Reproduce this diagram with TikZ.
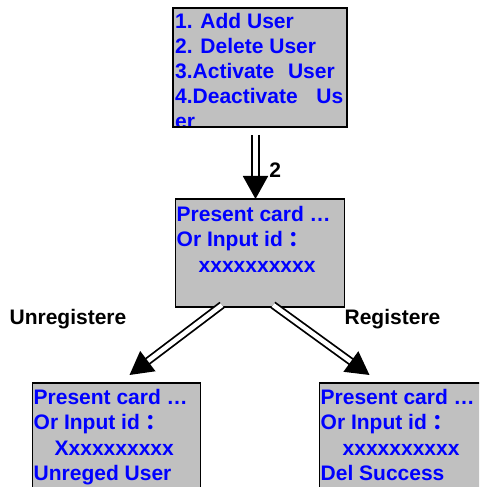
\documentclass[tikz,border=0pt]{standalone}
\usepackage{fontspec}
\setmainfont{Liberation Sans}
\newfontfamily\cjk{Noto Sans CJK SC}
\usepackage{xcolor}
\definecolor{screenGray}{HTML}{C0C0C0}
\definecolor{screenBlue}{HTML}{0000FF}
\usetikzlibrary{positioning,arrows.meta}
\tikzset{%
  screenBox/.style={%
    rectangle,
    draw=black,
    line width=1.6pt,
    fill=screenGray,
    inner sep=0pt,
    outer sep=0pt
  },
  screenText/.style={%
    anchor=north west,
    inner sep=0pt,
    align=left,
    text=screenBlue,
    font=\fontsize{21}{25.5}\selectfont\bfseries
  },
  dblArrow/.style={%
    -{Triangle[length=23pt,width=25pt]},
    line width=1.8pt,
    double,
    double distance=4.5pt
  },
  tagText/.style={%
    anchor=base,
    inner sep=0pt,
    font=\fontsize{21}{25}\selectfont\bfseries
  }
}

\begin{document}
\begin{tikzpicture}[x=1pt,y=1pt]
  \useasboundingbox (0,0) rectangle (479,487);
  \clip (0,0) rectangle (479,487);

  % screens
  \node[screenBox, minimum width=174pt, minimum height=119pt] (menu) at (260,419.5) {};
  \node[screenBox, minimum width=169pt, minimum height=108pt, below=72pt of menu] (card) {};
  \node[screenBox, minimum width=168pt, minimum height=120pt, below left=76pt and -25pt of card] (unreg) {};
  \node[screenBox, minimum width=172pt, minimum height=120pt, below right=76pt and -25pt of card] (reg) {};

  \begin{scope}
    \clip (menu.south west) rectangle (menu.north east);
    \node[screenText, font=\fontsize{21}{24.9}\selectfont\bfseries] (menuText) at ([shift={(2pt,-5.5pt)}]menu.north west)
      {1. Add User\\2. Delete User\\3.Activate\ \ \hspace{2pt}User\\4.Deactivate\ \ \hspace{7pt}Us\\er};
  \end{scope}
  \node[screenText] (cardText) at ([shift={(1pt,-7pt)}]card.north west)
    {Present card \dots\\Or Input id {\cjk：}\\\hspace*{22pt}xxxxxxxxxx};
  \node[screenText] (unregText) at ([shift={(1pt,-6pt)}]unreg.north west)
    {Present card \dots\\Or Input id {\cjk：}\\\hspace*{21pt}Xxxxxxxxxx\\Unreged User};
  \node[screenText] (regText) at ([shift={(1pt,-6pt)}]reg.north west)
    {Present card \dots\\Or Input id {\cjk：}\\\hspace*{22pt}xxxxxxxxxx\\Del Success};
  \draw[line width=1.6pt] (menu.south west) rectangle (menu.north east);

  % transitions
  \draw[dblArrow] ([shift={(-4.5pt,-8pt)}]menu.south) --
    node[tagText, pos=0.67, anchor=base west, xshift=13pt] (stepTag) {2}
    ([xshift=-4.5pt]card.north);
  \draw[dblArrow] ([shift={(-38pt,2pt)}]card.south) -- ([shift={(13pt,8pt)}]unreg.north);
  \draw[dblArrow] ([shift={(13pt,2pt)}]card.south) -- ([shift={(-36pt,8pt)}]reg.north);

  \node[tagText] (unregTag) at (68,162) {Unregistere};
  \node[tagText] (regTag) at (392.5,162) {Registere};
\end{tikzpicture}
\end{document}
